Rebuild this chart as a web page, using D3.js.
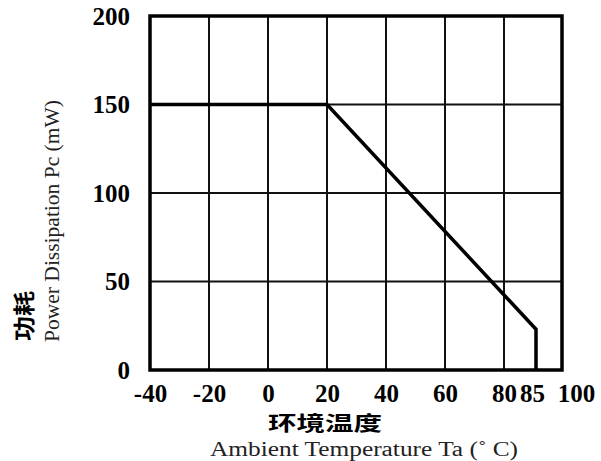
<!DOCTYPE html>
<html>
<head>
<meta charset="utf-8">
<script src="https://cdn.jsdelivr.net/npm/d3@7"></script>
<style>
  body { margin: 0; background: #fff; }
  svg { display: block; }
</style>
</head>
<body>
<div id="chart"></div>
<script>
// derating curve: temperature (°C) vs power (mW)
const temps = [-40, 20, 85, 85];
const power = [150, 150, 23, 0];

const xTicks = [-40, -20, 0, 20, 40, 60, 80, 85, 100];
const yTicks = [0, 50, 100, 150, 200];
const xGrid = [-20, 0, 20, 40, 60, 80];
const yGrid = [50, 100, 150];

const width = 601, height = 461;

const svg = d3.select("#chart").append("svg")
    .attr("width", width)
    .attr("height", height);

// the original axis squeezes 80..100 a bit, so the scale is piecewise
const x = d3.scaleLinear().domain([-40, 80, 85, 100]).range([150, 504, 536, 562]);
const y = d3.scaleLinear().domain([0, 200]).range([370, 16]);

// grid lines
svg.append("g").selectAll("line.vx")
    .data(xGrid)
    .join("line")
    .attr("x1", d => x(d)).attr("x2", d => x(d))
    .attr("y1", y(0)).attr("y2", y(200))
    .attr("stroke", "#111")
    .attr("stroke-width", 2);

svg.append("g").selectAll("line.hy")
    .data(yGrid)
    .join("line")
    .attr("x1", x(-40)).attr("x2", x(100))
    .attr("y1", d => y(d)).attr("y2", d => y(d))
    .attr("stroke", "#111")
    .attr("stroke-width", 2);

// frame
svg.append("rect")
    .attr("x", x(-40))
    .attr("y", y(200))
    .attr("width", x(100) - x(-40))
    .attr("height", y(0) - y(200))
    .attr("fill", "none")
    .attr("stroke", "#000")
    .attr("stroke-width", 3.5);

// curve
const pts = temps.map((t, i) => [t, power[i]]);
svg.append("path")
    .datum(pts)
    .attr("fill", "none")
    .attr("stroke", "#000")
    .attr("stroke-width", 3.5)
    .attr("d", d3.line().x(d => x(d[0])).y(d => y(d[1])));

// axes (labels only)
const xAxis = svg.append("g")
    .attr("transform", `translate(0,${y(0)})`)
    .call(d3.axisBottom(x).tickValues(xTicks).tickSize(0).tickPadding(14).tickFormat(d => String(d)));
xAxis.select(".domain").remove();
xAxis.selectAll("text")
    .attr("dx", d => d === 100 ? 14 : (d === 85 ? -4 : 0));

const yAxis = svg.append("g")
    .attr("transform", `translate(${x(-40)},0)`)
    .call(d3.axisLeft(y).tickValues(yTicks).tickSize(0).tickPadding(20).tickFormat(d => String(d)));
yAxis.select(".domain").remove();

svg.selectAll(".tick text")
    .attr("fill", "#000")
    .style("font-family", "'Liberation Serif', 'Times New Roman', serif")
    .style("font-weight", "bold")
    .style("font-size", "25px");

// axis titles
svg.append("text")
    .attr("x", 268).attr("y", 431)
    .attr("textLength", 114).attr("lengthAdjust", "spacingAndGlyphs")
    .style("font-family", "'Noto Sans CJK SC', sans-serif")
    .style("font-weight", "bold")
    .style("font-size", "20px")
    .text("环境温度");

svg.append("text")
    .attr("x", 210).attr("y", 456)
    .attr("textLength", 308).attr("lengthAdjust", "spacingAndGlyphs")
    .attr("fill", "#222")
    .style("font-family", "'Liberation Serif', 'Times New Roman', serif")
    .style("font-size", "20px")
    .text("Ambient Temperature Ta (˚  C)");

svg.append("text")
    .attr("transform", "translate(32,341) rotate(-90)")
    .attr("textLength", 50).attr("lengthAdjust", "spacingAndGlyphs")
    .style("font-family", "'Noto Sans CJK SC', sans-serif")
    .style("font-weight", "bold")
    .style("font-size", "22px")
    .text("功耗");

svg.append("text")
    .attr("transform", "translate(59,342) rotate(-90)")
    .attr("textLength", 242).attr("lengthAdjust", "spacingAndGlyphs")
    .attr("fill", "#222")
    .style("font-family", "'Liberation Serif', 'Times New Roman', serif")
    .style("font-size", "20px")
    .text("Power Dissipation Pc (mW)");
</script>
</body>
</html>
